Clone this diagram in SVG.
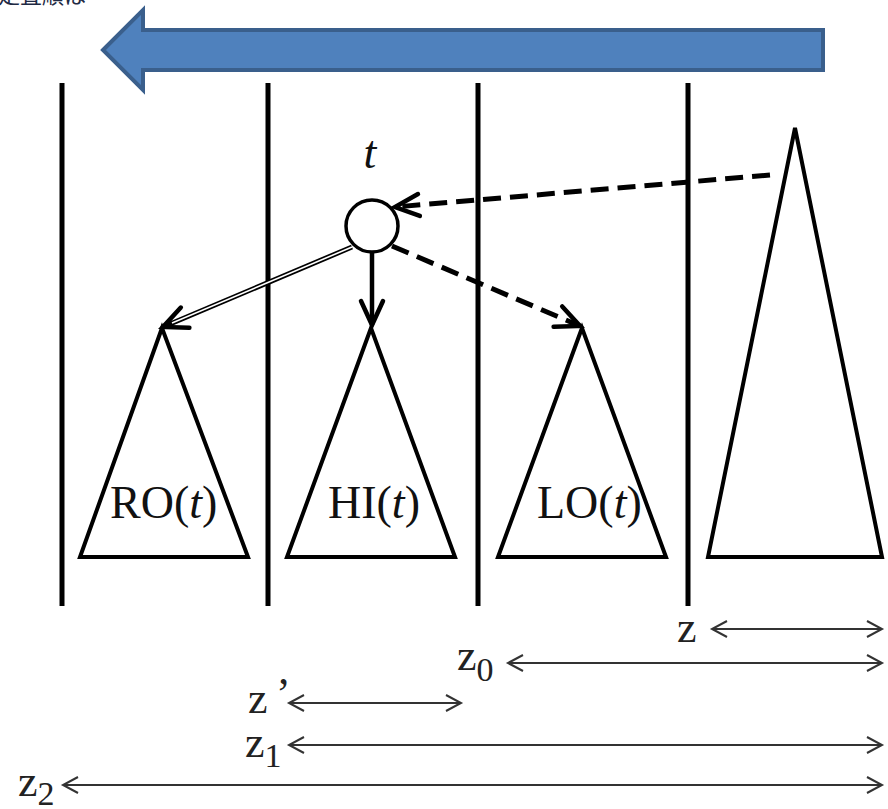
<svg xmlns="http://www.w3.org/2000/svg" width="888" height="809" viewBox="0 0 888 809">
<style>
.vl{stroke:#000;stroke-width:5}
.tri{fill:#fff;stroke:#000;stroke-width:4;stroke-linejoin:miter}
.lbl{font-family:"Liberation Serif",serif;font-size:46px;fill:#111}
.zl{font-family:"Liberation Serif",serif;font-size:44px;fill:#222}
.it{font-style:italic}
.dim{stroke:#333;stroke-width:2;fill:none}
.dash{stroke:#000;stroke-width:5;stroke-dasharray:18 9;fill:none}
</style>
<defs>
<marker id="ah" markerUnits="userSpaceOnUse" markerWidth="40" markerHeight="40" refX="0" refY="0" viewBox="-30 -20 40 40" orient="auto">
<path d="M-24,-11 L0,0 L-24,11" fill="none" stroke="#000" stroke-width="4.5" stroke-linecap="round" stroke-linejoin="miter"/>
</marker>
<marker id="dh" markerUnits="userSpaceOnUse" markerWidth="30" markerHeight="30" refX="0" refY="0" viewBox="-20 -15 30 30" orient="auto-start-reverse">
<path d="M-15,-8 L0,0 L-15,8" fill="none" stroke="#333" stroke-width="2"/>
</marker>
</defs>
<rect width="888" height="809" fill="#fff"/>
<text x="-2" y="3" font-family="'Noto Sans CJK JP',sans-serif" font-size="22" fill="#1f2a44">走査順は</text>
<g id="bigArrow">
<path d="M103,50 L143,10 L143,30 L823,30 L823,70 L143,70 L143,90 Z" fill="#4f81bd" stroke="#3a5f8c" stroke-width="4"/>
</g>
<g id="dividers">
<line class="vl" x1="62" y1="83" x2="62" y2="606"/>
<line class="vl" x1="268" y1="83" x2="268" y2="606"/>
<line class="vl" x1="478" y1="83" x2="478" y2="606"/>
<line class="vl" x1="688" y1="83" x2="688" y2="606"/>
</g>
<g id="node-t">
<circle cx="372" cy="226" r="26" fill="#fff" stroke="#000" stroke-width="3.5"/>
<text class="lbl it" x="370" y="168" text-anchor="middle" font-size="50">t</text>
</g>
<g id="RO">
<polygon class="tri" points="162,328 80,557 248,557"/>
<text class="lbl" x="110" y="518">RO(<tspan class="it">t</tspan>)</text>
</g>
<g id="HI">
<polygon class="tri" points="371,328 287,557 455,557"/>
<text class="lbl" x="328" y="518">HI(<tspan class="it">t</tspan>)</text>
</g>
<g id="LO">
<polygon class="tri" points="582,328 498,557 666,557"/>
<text class="lbl" x="537" y="518">LO(<tspan class="it">t</tspan>)</text>
</g>
<g id="bigTree">
<polygon class="tri" points="795,128 708,557 882,557"/>
</g>
<g id="connectors">
<line class="dash" x1="770" y1="175" x2="395" y2="207" marker-end="url(#ah)"/>
<line x1="372" y1="252" x2="372" y2="325" stroke="#000" stroke-width="4.5" marker-end="url(#ah)"/>
<line class="dash" x1="392" y1="246" x2="580" y2="326" marker-end="url(#ah)"/>
<line x1="352" y1="247" x2="163" y2="327" stroke="#000" stroke-width="5" marker-end="url(#ah)"/>
<line x1="352" y1="247" x2="172" y2="323" stroke="#fff" stroke-width="1.6"/>
</g>
<g id="dimensions">
<line class="dim" x1="712" y1="629" x2="882" y2="629" marker-start="url(#dh)" marker-end="url(#dh)"/>
<text class="zl" x="677" y="642">z</text>
<line class="dim" x1="508" y1="663" x2="882" y2="663" marker-start="url(#dh)" marker-end="url(#dh)"/>
<text class="zl" x="457" y="670">z<tspan font-size="34" dy="11">0</tspan></text>
<line class="dim" x1="289" y1="703" x2="461" y2="703" marker-start="url(#dh)" marker-end="url(#dh)"/>
<text class="zl" x="248" y="713">z</text>
<text class="zl" x="276" y="708" font-size="36">’</text>
<line class="dim" x1="289" y1="745" x2="882" y2="745" marker-start="url(#dh)" marker-end="url(#dh)"/>
<text class="zl" x="245" y="757">z<tspan font-size="34" dy="10">1</tspan></text>
<line class="dim" x1="63" y1="785" x2="882" y2="785" marker-start="url(#dh)" marker-end="url(#dh)"/>
<text class="zl" x="18" y="796">z<tspan font-size="34" dy="9">2</tspan></text>
</g>
</svg>
